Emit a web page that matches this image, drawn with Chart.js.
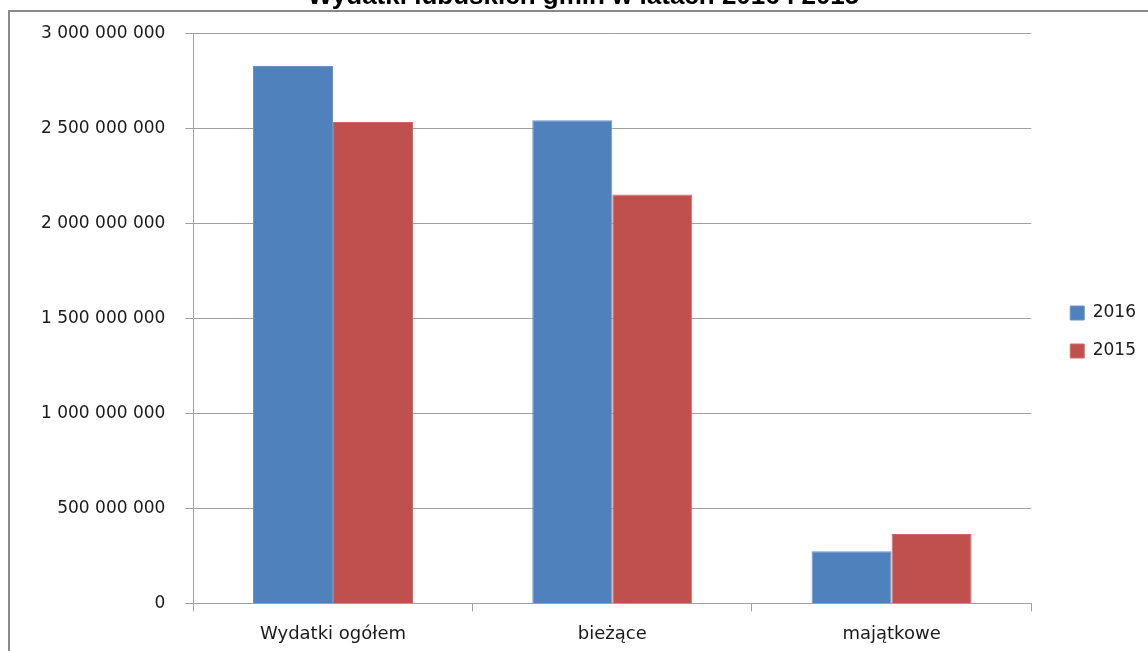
<!DOCTYPE html>
<html>
<head>
<meta charset="utf-8">
<script src="https://cdn.jsdelivr.net/npm/chart.js@4"></script>
<style>
  html, body { margin: 0; padding: 0; background: #fff; overflow: hidden; }
  #wrap { position: absolute; left: 0; top: -23px; width: 1148px; height: 686px; }
  #ramka { position: absolute; left: 8px; top: 10px; width: 1160px; height: 660px;
           border-top: 2px solid #8a8a8a; border-left: 2px solid #8a8a8a; pointer-events: none; }
</style>
</head>
<body>
<div id="wrap"><canvas id="myChart"></canvas></div>
<div id="ramka"></div>
<script>
const kategorie = ["Wydatki ogółem", "bieżące", "majątkowe"];
const wydatki2016 = [2828000000, 2542000000, 275000000];
const wydatki2015 = [2533000000, 2151000000, 365000000];
const podzialkaY = [0, 500000000, 1000000000, 1500000000, 2000000000, 2500000000, 3000000000];

// format z odstepami co trzy cyfry: 3 000 000 000
function formatuj(v) {
  return String(v).replace(/\B(?=(\d{3})+(?!\d))/g, " ");
}

const myChartElement = document.getElementById("myChart");

const config = {
  type: "bar",
  data: {
    labels: kategorie,
    datasets: [
      {
        label: "2016",
        data: wydatki2016,
        backgroundColor: "#4F81BD",
        borderColor: "#6a94c8",
        borderWidth: 1
      },
      {
        label: "2015",
        data: wydatki2015,
        backgroundColor: "#C0504D",
        borderColor: "#cc6a67",
        borderWidth: 1
      }
    ]
  },
  options: {
    responsive: true,
    maintainAspectRatio: false,
    animation: false,
    datasets: {
      bar: { barPercentage: 1, categoryPercentage: 0.573 }
    },
    layout: {
      padding: { left: 21, right: 2, top: 0, bottom: 6 }
    },
    plugins: {
      title: {
        display: true,
        text: "Wydatki lubuskich gmin w latach 2016 i 2015",
        color: "#000",
        font: { family: "Liberation Sans", size: 26, weight: "bold" },
        padding: { top: 4, bottom: 21 }
      },
      legend: {
        position: "right",
        labels: {
          boxWidth: 14,
          boxHeight: 14,
          padding: 21,
          color: "#1a1a1a",
          font: { family: "DejaVu Sans", size: 17 }
        },
        // pusty tytul legendy, zeby zsunac pozycje w dol
        title: {
          display: true,
          text: " ",
          font: { size: 10 },
          padding: { top: 18, bottom: 0 }
        }
      },
      tooltip: { enabled: false }
    },
    scales: {
      x: {
        grid: {
          offset: true,
          drawOnChartArea: false,
          color: "#a0a0a0",
          tickLength: 8
        },
        border: { color: "#a0a0a0", width: 1 },
        ticks: {
          color: "#1a1a1a",
          padding: 12,
          font: { family: "DejaVu Sans", size: 18 }
        }
      },
      y: {
        min: 0,
        max: 3000000000,
        afterBuildTicks: function (scale) {
          scale.ticks = podzialkaY.map(v => ({ value: v }));
        },
        grid: {
          color: "#a0a0a0",
          tickLength: 8
        },
        border: { color: "#a0a0a0", width: 1 },
        ticks: {
          color: "#1a1a1a",
          padding: 20,
          font: { family: "DejaVu Sans", size: 17 },
          callback: function (value) {
            return formatuj(value);
          }
        }
      },
      // pusta os po prawej - odstep miedzy wykresem a legenda
      odstep: {
        position: "right",
        grid: { display: false },
        border: { display: false },
        ticks: { display: false },
        afterFit: function (scale) {
          scale.width = 18;
        }
      }
    }
  }
};

const myChartInstance = new Chart(myChartElement, config);
</script>
</body>
</html>
